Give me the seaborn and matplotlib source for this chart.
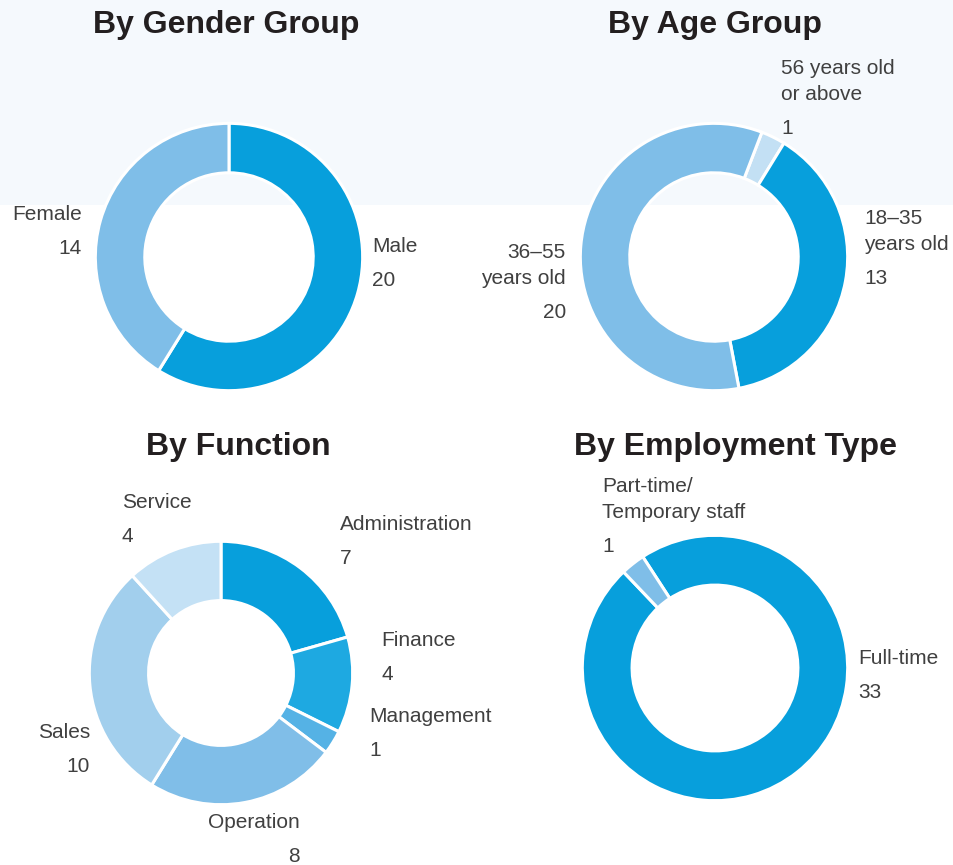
import numpy as np
import matplotlib
matplotlib.use("Agg")
import matplotlib.pyplot as plt
import seaborn as sns

# Datos
gender_labels = ["Male", "Female"]
gender_values = [20, 14]

age_labels = ["56 years old\nor above", "18–35\nyears old", "36–55\nyears old"]
age_values = [1, 13, 20]

function_labels = ["Administration", "Finance", "Management", "Operation", "Sales", "Service"]
function_values = [7, 4, 1, 8, 10, 4]

employment_labels = ["Full-time", "Part-time/\nTemporary staff"]
employment_values = [33, 1]

# Colores
dark = "#079fdc"
mid = "#7fbee8"
light = "#c3e0f4"
gender_colors = [dark, mid]
age_colors = [light, dark, mid]
function_colors = ["#079fdc", "#1ea9e1", "#55b2e5", "#80bee8", "#a2cfed", "#c4e1f5"]
employment_colors = [dark, mid]

sns.set_theme(style="white")
plt.rcParams["font.family"] = ["Liberation Sans", "DejaVu Sans"]

W, H = 954, 865
fig = plt.figure(figsize=(W / 100, H / 100), dpi=100)
fig.patch.set_facecolor("white")

# Fondo azul claro en la parte superior
fig.patches.append(plt.Rectangle((0, (H - 205) / H), 1, 205 / H, transform=fig.transFigure,
                                 facecolor="#f5f9fd", edgecolor="none", zorder=-10))


def donut(cx, cy, r, values, colors, start, width):
    ax = fig.add_axes([(cx - r) / W, (H - cy - r) / H, 2 * r / W, 2 * r / H])
    ax.pie(values, colors=colors, startangle=start, counterclock=False, radius=1,
           wedgeprops=dict(width=width, edgecolor="white", linewidth=2.2))
    ax.set_xlim(-1.01, 1.01)
    ax.set_ylim(-1.01, 1.01)
    ax.set_aspect("equal")
    ax.set_axis_off()
    return ax


donut(229, 257, 135, gender_values, gender_colors, 90, 0.37)
donut(714, 257, 135, age_values, age_colors, 69, 0.37)
donut(221, 673, 133, function_values, function_colors, 90, 0.45)
donut(715, 668, 134, employment_values, employment_colors, 123, 0.375)

# Títulos
titles = [("By Gender Group", 226, 25), ("By Age Group", 715, 25),
          ("By Function", 238, 447), ("By Employment Type", 735, 447)]
for t, x, y in titles:
    fig.text(x / W, 1 - y / H, t, ha="center", va="center", fontsize=23,
             fontweight="bold", color="#231f20")


def label(name, value, x, y, ha="left"):
    lines = name.split("\n")
    for i, ln in enumerate(lines):
        fig.text(x / W, 1 - (y + i * 26) / H, ln, ha=ha, va="center",
                 fontsize=15, color="#404040")
    fig.text(x / W, 1 - (y + (len(lines) - 1) * 26 + 34) / H, str(value),
             ha=ha, va="center", fontsize=15, color="#404040")


# Etiquetas (posiciones en píxeles)
label(gender_labels[0], gender_values[0], 372, 247)
label(gender_labels[1], gender_values[1], 82, 215, ha="right")

label(age_labels[0], age_values[0], 781, 69)
label(age_labels[1], age_values[1], 864, 218)
label(age_labels[2], age_values[2], 566, 252, ha="right")

func_pos = [(340, 525, "left"), (381, 641, "left"), (369, 717, "left"),
            (300, 823, "right"), (90, 733, "right"), (122, 502, "left")]
for lab, val, (x, y, ha) in zip(function_labels, function_values, func_pos):
    label(lab, val, x, y, ha=ha)

label(employment_labels[0], employment_values[0], 858, 658)
label(employment_labels[1], employment_values[1], 602, 487)

fig.savefig("out.png", dpi=100)
